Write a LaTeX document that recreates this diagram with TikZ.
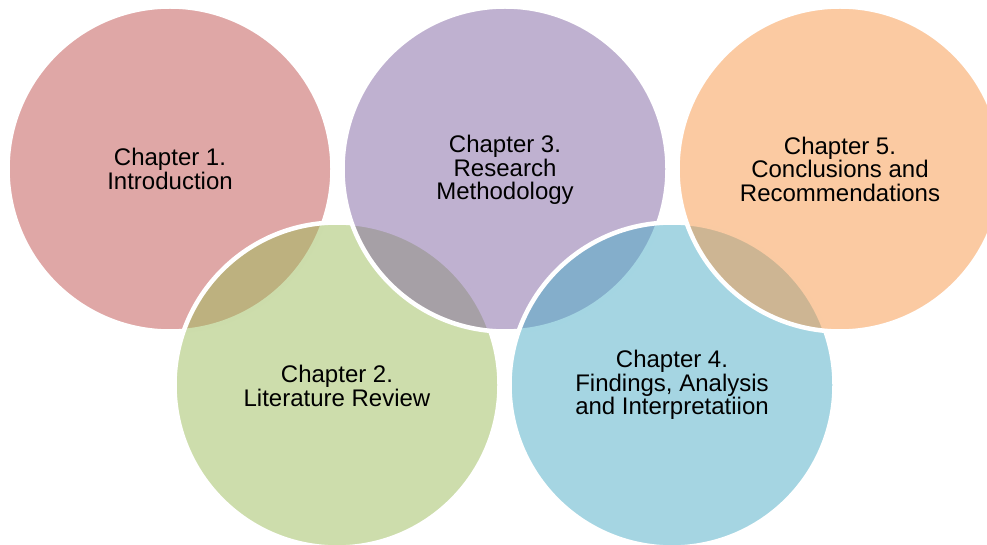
\documentclass[tikz,border=0pt]{standalone}
\usepackage{fontspec}
\setmainfont{Liberation Sans}
\definecolor{cred}{HTML}{C0504D}
\definecolor{cgreen}{HTML}{9BBB59}
\definecolor{cpurple}{HTML}{8064A2}
\definecolor{cblue}{HTML}{4BACC6}
\definecolor{corange}{HTML}{F79646}
\tikzset{
  chap/.style={circle, minimum size=325pt, inner sep=0pt, fill=#1, fill opacity=0.5, draw=white, draw opacity=1, line width=4.5pt},
  chaptext/.style={align=center, font=\fontsize{24}{23.5}\selectfont, text=black, inner sep=0pt}
}
\begin{document}
\begin{tikzpicture}[x=1pt,y=-1pt]
\useasboundingbox (0,0) rectangle (987,545);
\node[chap=cred]    (c1) at (170,169) {};
\node[chap=cgreen]  (c2) at (337,385) {};
\node[chap=cpurple] (c3) at (505,169) {};
\node[chap=cblue]   (c4) at (672,385) {};
\node[chap=corange] (c5) at (840,169) {};
\node[chaptext] (t1) at (170,169) {Chapter 1.\\Introduction};
\node[chaptext] (t2) at (337,386) {Chapter 2.\\Literature Review};
\node[chaptext] (t3) at (505,170) {Chapter 3.\\Research\\Methodology};
\node[chaptext] (t4) at (672,385) {Chapter 4.\\Findings, Analysis\\and Interpretatiion};
\node[chaptext] (t5) at (840,169) {Chapter 5.\\Conclusions and\\Recommendations};
\end{tikzpicture}
\end{document}
